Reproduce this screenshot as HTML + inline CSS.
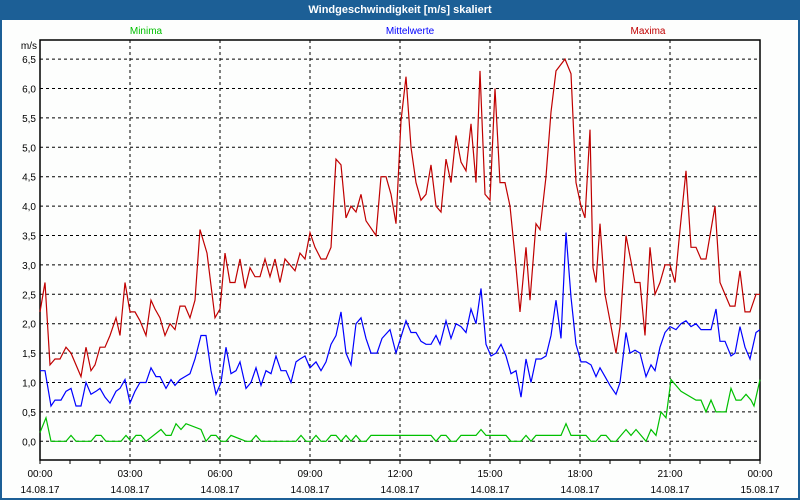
<!DOCTYPE html>
<html><head><meta charset="utf-8"><style>
html,body{margin:0;padding:0;background:#fff}
#wrap{position:relative;width:800px;height:500px;background:#fdfefd;box-sizing:border-box;border:2px solid #1c5f96;border-top:none;overflow:hidden}
#title{position:absolute;left:0;top:0;width:796px;height:20px;background:#1c5f96;color:#fff;font:bold 11px "Liberation Sans",sans-serif;text-align:center;line-height:20px}
svg{position:absolute;left:-2px;top:0}
text{font-family:"Liberation Sans",sans-serif;font-size:10px}
</style></head><body>
<div id="wrap">
<div id="title">Windgeschwindigkeit [m/s] skaliert</div>
<svg id="chart" width="800" height="500"></svg>
</div>
<script>
const yTicks=[0,0.5,1,1.5,2,2.5,3,3.5,4,4.5,5,5.5,6,6.5];
const yTickLabels=["0,0","0,5","1,0","1,5","2,0","2,5","3,0","3,5","4,0","4,5","5,0","5,5","6,0","6,5"];
const xTicksMin=[0,180,360,540,720,900,1080,1260,1440];
const xTimeLabels=["00:00","03:00","06:00","09:00","12:00","15:00","18:00","21:00","00:00"];
const xDateLabels=["14.08.17","14.08.17","14.08.17","14.08.17","14.08.17","14.08.17","14.08.17","14.08.17","15.08.17"];
const seriesNames=["Minima","Mittelwerte","Maxima"];
const maxT=[0,10,20,30,40,52,62,82,92,102,110,120,130,140,152,160,170,180,190,200,212,222,230,240,250,260,270,280,290,300,310,320,334,350,360,370,380,390,400,410,420,430,440,450,460,470,480,490,510,520,530,540,550,562,572,582,592,602,612,622,632,642,652,672,682,692,702,712,722,732,742,752,762,772,782,792,802,812,822,832,842,852,862,872,880,890,900,910,920,930,940,950,960,972,980,992,1000,1012,1022,1032,1050,1062,1072,1082,1090,1100,1106,1112,1120,1130,1140,1152,1160,1172,1190,1200,1210,1220,1230,1240,1250,1260,1270,1280,1292,1302,1312,1322,1332,1350,1360,1380,1390,1400,1410,1420,1432,1440];
const maxV=[2.2,2.7,1.3,1.4,1.4,1.6,1.5,1.1,1.6,1.2,1.3,1.6,1.6,1.8,2.1,1.8,2.7,2.2,2.2,2.05,1.8,2.4,2.25,2.1,1.8,2.0,1.9,2.3,2.3,2.1,2.4,3.6,3.2,2.1,2.25,3.2,2.7,2.7,3.1,2.6,2.95,2.8,2.8,3.1,2.8,3.1,2.7,3.1,2.9,3.2,3.1,3.55,3.3,3.1,3.1,3.3,4.8,4.7,3.8,4.0,3.9,4.2,3.75,3.5,4.5,4.5,4.2,3.7,5.45,6.2,5.0,4.4,4.1,4.2,4.7,4.0,3.9,4.8,4.4,5.2,4.75,4.6,5.4,4.4,6.3,4.2,4.1,6.0,4.4,4.4,4.0,3.15,2.2,3.3,2.4,3.7,3.6,4.5,5.6,6.3,6.5,6.25,4.4,4.0,3.8,5.3,2.95,2.7,3.7,2.5,2.05,1.5,1.95,3.5,2.7,2.7,1.8,3.3,2.5,2.7,3.0,3.0,2.7,3.6,4.6,3.3,3.3,3.1,3.1,4.0,2.7,2.3,2.3,2.9,2.2,2.2,2.5,2.5];
const meanT=[0,10,22,30,42,52,62,72,82,92,102,112,120,130,140,152,160,170,180,190,200,212,222,232,240,252,262,270,280,290,300,310,322,332,342,352,362,372,382,392,400,412,422,432,442,452,462,472,482,492,502,512,520,530,540,552,562,572,582,592,602,612,622,632,642,652,662,674,684,700,712,732,742,752,762,772,782,792,800,812,822,832,842,852,862,872,882,892,902,912,922,932,942,952,962,972,982,992,1002,1012,1022,1032,1042,1052,1062,1072,1082,1092,1102,1112,1120,1130,1140,1152,1160,1172,1180,1190,1200,1212,1222,1230,1240,1250,1260,1272,1282,1292,1302,1312,1322,1342,1352,1360,1370,1382,1390,1400,1410,1420,1432,1440];
const meanV=[1.2,1.2,0.6,0.7,0.7,0.85,0.9,0.6,0.6,1.0,0.8,0.85,0.9,0.75,0.65,0.85,0.9,1.05,0.65,0.85,1.0,1.0,1.25,1.1,1.1,0.9,1.05,0.95,1.05,1.1,1.15,1.4,1.8,1.8,1.2,0.8,1.0,1.6,1.15,1.2,1.35,0.9,1.0,1.25,0.95,1.2,1.15,1.45,1.2,1.2,1.0,1.35,1.4,1.45,1.25,1.35,1.2,1.35,1.65,1.8,2.2,1.5,1.3,2.0,2.1,1.75,1.5,1.5,1.75,1.9,1.5,2.05,1.85,1.85,1.7,1.65,1.65,1.8,1.65,2.05,1.75,2.0,1.95,1.85,2.25,2.0,2.6,1.65,1.45,1.5,1.65,1.45,1.15,1.2,0.75,1.4,1.0,1.4,1.4,1.45,1.8,2.4,1.75,3.55,2.45,1.65,1.35,1.35,1.3,1.1,1.25,1.1,0.95,0.8,1.0,1.85,1.5,1.55,1.5,1.1,1.3,1.2,1.6,1.85,1.95,1.9,2.0,2.05,1.95,2.0,1.9,1.9,2.25,1.7,1.7,1.45,1.5,1.95,1.6,1.4,1.85,1.9];
const minT=[0,12,22,52,62,72,102,112,122,132,162,172,182,192,202,212,242,252,262,272,282,292,322,332,342,352,362,372,382,412,422,432,442,452,512,522,532,542,552,562,572,582,592,602,612,622,632,642,652,662,672,682,720,782,792,802,812,822,832,842,872,882,892,932,942,962,972,982,992,1042,1052,1062,1092,1102,1112,1122,1132,1142,1152,1162,1172,1182,1192,1202,1212,1222,1232,1242,1252,1262,1282,1312,1322,1332,1342,1352,1372,1382,1392,1402,1412,1422,1428,1440];
const minV=[0.15,0.4,0,0,0.1,0,0,0.1,0.1,0,0,0.1,0,0.1,0.1,0,0.2,0.1,0.1,0.3,0.2,0.3,0.2,0,0.1,0.1,0,0,0.1,0,0,0.1,0,0,0,0.1,0,0,0.1,0,0,0.1,0.1,0,0.1,0,0.1,0,0,0.1,0.1,0.1,0.1,0.1,0,0.1,0.1,0,0,0.1,0.1,0.2,0.1,0.1,0,0,0.1,0,0.1,0.1,0.3,0.1,0.1,0,0,0.1,0.1,0,0,0.1,0.2,0.1,0.2,0.1,0,0.2,0.1,0.5,0.4,1.05,0.85,0.7,0.7,0.5,0.7,0.5,0.5,0.9,0.7,0.7,0.8,0.7,0.6,1.05,1.2];

const NS='http://www.w3.org/2000/svg';
const svg=document.getElementById('chart');
const L=40,R=760,T=40,B=460,Y0=441.3,YS=58.8;
function xs(m){return L+m*(R-L)/1440;}
function ys(v){return Y0-v*YS;}
function mk(tag,attrs,parent){const e=document.createElementNS(NS,tag);for(const k in attrs)e.setAttribute(k,attrs[k]);(parent||svg).appendChild(e);return e;}

yTicks.forEach((v,i)=>{
  const g=mk('line',{x1:L,x2:R,y1:ys(v),y2:ys(v),stroke:'#000','stroke-dasharray':'3,3','stroke-width':1});
  
  
  const t=mk('text',{x:L-4,y:ys(v)+4,'text-anchor':'end',fill:'#000'});
  t.textContent=yTickLabels[i];
  
  
});
xTicksMin.forEach((m,i)=>{
  if(i>0&&i<xTicksMin.length-1){
    const g=mk('line',{x1:xs(m),x2:xs(m),y1:T,y2:B,stroke:'#000','stroke-dasharray':'3,3','stroke-width':1});
    
    
  }
  const t1=mk('text',{x:xs(m),y:477,'text-anchor':'middle',fill:'#000'});
  t1.textContent=xTimeLabels[i];
  
  
  const t2=mk('text',{x:xs(m),y:493,'text-anchor':'middle',fill:'#000'});
  t2.textContent=xDateLabels[i];
  
  
});
for(let h=0;h<=24;h++){
  const tk=mk('line',{x1:xs(h*60),x2:xs(h*60),y1:B,y2:B+4,stroke:'#000'});
  
  
}
const box=mk('rect',{x:L,y:T,width:R-L,height:B-T,fill:'none',stroke:'#000','stroke-width':1.5});


const unit=mk('text',{x:L-3,y:49,'text-anchor':'end',fill:'#000'});
unit.textContent='m/s';



function line(ts,vs,color,name){
  const p=ts.map((t,i)=>xs(t).toFixed(1)+','+ys(vs[i]).toFixed(1)).join(' ');
  const e=mk('polyline',{points:p,fill:'none',stroke:color,'stroke-width':1.2});
  
  
}
line(minT,minV,'#00c000','minima-line');
line(meanT,meanV,'#0000ff','mittelwerte-line');
line(maxT,maxV,'#c00000','maxima-line');

const legX=[146,410,648],legC=['#00c000','#0000ff','#c00000'];
seriesNames.forEach((n,i)=>{
  const t=mk('text',{x:legX[i],y:34,'text-anchor':'middle',fill:legC[i]});
  t.textContent=n;
  
  
});
</script>
</body></html>
